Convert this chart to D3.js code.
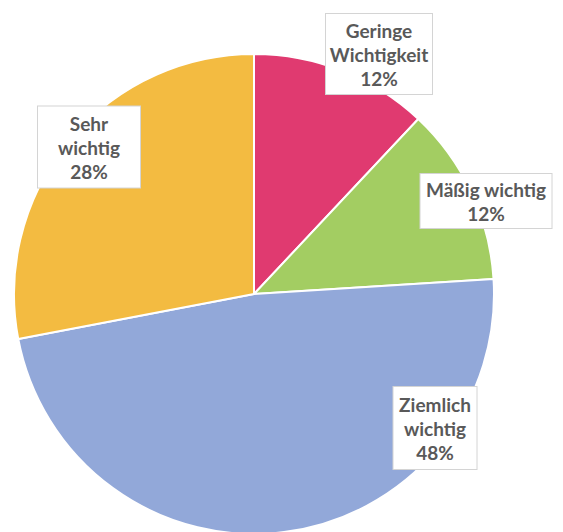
<!DOCTYPE html>
<html>
<head>
<meta charset="utf-8">
<script src="https://cdn.jsdelivr.net/npm/d3@7"></script>
<style>
  html, body { margin: 0; padding: 0; background: #ffffff; }
  svg { display: block; }
  .lbl text { font-family: Lato, "Open Sans", sans-serif; font-weight: 700; font-size: 19px; fill: #595959; }
</style>
</head>
<body>
<svg id="chart" width="563" height="532"></svg>
<script>
// Umfrage: Wichtigkeit (Anteile in Prozent)
const categories = ["Geringe Wichtigkeit", "Mäßig wichtig", "Ziemlich wichtig", "Sehr wichtig"];
const values = [12, 12, 48, 28];
const labelLines = [["Geringe", "Wichtigkeit", "12%"], ["Mäßig wichtig", "12%"], ["Ziemlich", "wichtig", "48%"], ["Sehr", "wichtig", "28%"]];
const colors = ["#E03A70", "#A3CD62", "#92A8D9", "#F3BB41"];

// Layout of the label boxes: centre offset from the pie centre and box size
const labelLayout = [
  { dx: 125, dy: -240, w: 107, h: 81 },
  { dx: 232, dy: -93, w: 132, h: 55 },
  { dx: 181, dy: 134, w: 84, h: 83 },
  { dx: -165, dy: -147, w: 103, h: 82 }
];

const width = 563, height = 532;
const cx = 254, cy = 294, radius = 240;

const svg = d3.select("#chart");
const g = svg.append("g").attr("transform", `translate(${cx},${cy})`);

const data = categories.map((c, i) => ({ name: c, value: values[i], color: colors[i], lines: labelLines[i], layout: labelLayout[i] }));

const pie = d3.pie().value(d => d.value).sort(null);
const arc = d3.arc().innerRadius(0).outerRadius(radius);
const color = d3.scaleOrdinal().domain(categories).range(colors);

const arcs = pie(data);

g.selectAll("path.slice")
  .data(arcs)
  .join("path")
  .attr("class", "slice")
  .attr("d", arc)
  .attr("fill", d => color(d.data.name))
  .attr("stroke", "#ffffff")
  .attr("stroke-width", 2)
  .attr("stroke-linejoin", "round");

const lineH = 24;
const labels = g.selectAll("g.lbl")
  .data(arcs)
  .join("g")
  .attr("class", "lbl")
  .attr("transform", d => `translate(${d.data.layout.dx},${d.data.layout.dy})`);

labels.append("rect")
  .attr("x", d => -d.data.layout.w / 2)
  .attr("y", d => -d.data.layout.h / 2)
  .attr("width", d => d.data.layout.w)
  .attr("height", d => d.data.layout.h)
  .attr("fill", "#ffffff")
  .attr("stroke", "#d4d4d4")
  .attr("stroke-width", 1);

labels.each(function(d) {
  const n = d.data.lines.length;
  d3.select(this).selectAll("text")
    .data(d.data.lines)
    .join("text")
    .attr("text-anchor", "middle")
    .attr("dominant-baseline", "central")
    .attr("y", (t, i) => (i - (n - 1) / 2) * lineH)
    .text(t => t);
});
</script>
</body>
</html>
